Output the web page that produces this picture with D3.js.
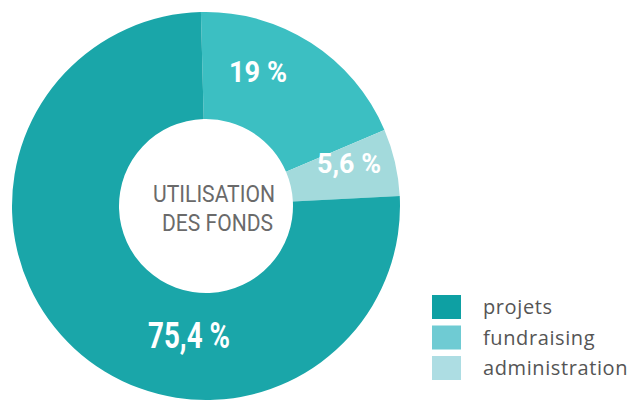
<!DOCTYPE html>
<html><head><meta charset="utf-8">
<script src="https://cdn.jsdelivr.net/npm/d3@7"></script>
<style>body{margin:0;background:#fff}svg{display:block}</style>
</head><body>
<script>
const categories = ["fundraising", "administration", "projets"];
const values = [19, 5.6, 75.4];
const labels = ["19 %", "5,6 %", "75,4 %"];
const legendOrder = ["projets", "fundraising", "administration"];
const sliceColors = {projets: "#1AA6A9", fundraising: "#3CBFC2", administration: "#A3DADC"};
const legendColors = {projets: "#0EA0A3", fundraising: "#6FCBD3", administration: "#ADDDE3"};

const W = 632, H = 409;
const svg = d3.select("body").append("svg").attr("width", W).attr("height", H);
const cx = 206, cy = 206, R = 194, r = 87;
const off = -1.5 * Math.PI / 180;
const pie = d3.pie().sort(null).startAngle(off).endAngle(2 * Math.PI + off);
const arcs = pie(values);
const arc = d3.arc().innerRadius(r).outerRadius(R);
const g = svg.append("g").attr("transform", `translate(${cx},${cy})`);
g.selectAll("path").data(arcs).join("path")
  .attr("d", arc).attr("fill", (d, i) => sliceColors[categories[i]]);

// [x, baseline y, font size, width]
const labelPos = [[52, -124, 29.5, 58], [143, -33, 28, 64], [-17, 142, 36.5, 82]];
g.selectAll("text.lab").data(arcs).join("text").attr("class", "lab")
  .attr("x", (d, i) => labelPos[i][0] - labelPos[i][3] / 2).attr("y", (d, i) => labelPos[i][1])
  .attr("font-family", "'Roboto', sans-serif")
  .attr("font-weight", "bold")
  .attr("font-size", (d, i) => labelPos[i][2])
  .attr("textLength", (d, i) => labelPos[i][3])
  .attr("lengthAdjust", "spacingAndGlyphs")
  .attr("fill", "#fff")
  .text((d, i) => labels[i]);

const ct = g.append("text").attr("text-anchor", "middle")
  .attr("font-family", "'Roboto', sans-serif").attr("font-weight", 400)
  .attr("font-size", 23.5).attr("fill", "#6a6a6a");
ct.append("tspan").attr("x", -53).attr("y", -4).attr("text-anchor", "start")
  .attr("textLength", 122).attr("lengthAdjust", "spacingAndGlyphs").text("UTILISATION");
ct.append("tspan").attr("x", -44).attr("y", 25).attr("text-anchor", "start")
  .attr("textLength", 111).attr("lengthAdjust", "spacingAndGlyphs").text("DES FONDS");

const lg = svg.append("g").attr("transform", "translate(432,295)");
const item = lg.selectAll("g").data(legendOrder).join("g")
  .attr("transform", (d, i) => `translate(0,${i * 30.5})`);
item.append("rect").attr("width", 29).attr("height", 24).attr("fill", d => legendColors[d]);
item.append("text").attr("x", 51).attr("y", 12).attr("dy", "0.35em")
  .attr("font-family", "'Open Sans', sans-serif").attr("font-size", 20)
  .attr("letter-spacing", 0.6)
  .attr("fill", "#555").text(d => d);
</script>
</body></html>
